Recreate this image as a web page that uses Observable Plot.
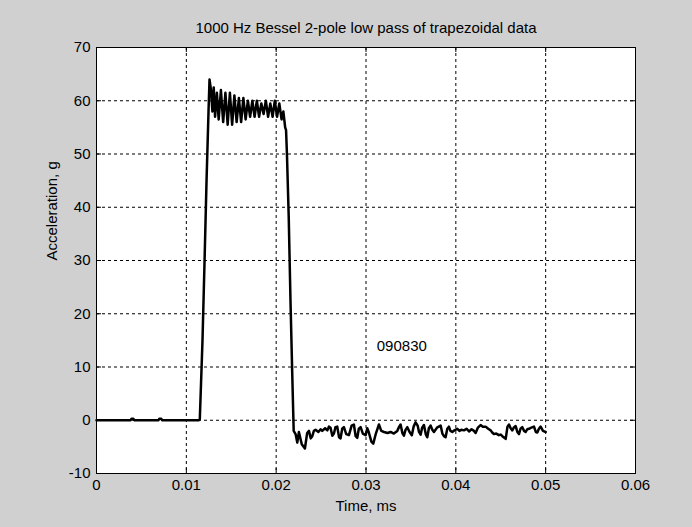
<!DOCTYPE html>
<html><head><meta charset="utf-8">
<script src="https://cdn.jsdelivr.net/npm/d3@7"></script>
<script src="https://cdn.jsdelivr.net/npm/@observablehq/plot@0.6"></script>
<style>html,body{margin:0;padding:0;background:#d0d0d0;overflow:hidden;}</style>
</head><body><div id="chart"></div>
<script>
const title = "1000 Hz Bessel 2-pole low pass of trapezoidal data";
const xLabel = "Time, ms";
const yLabel = "Acceleration, g";
const note = "090830";
const noteX = 0.0312;
const noteY = 14;
const xTicks = [0, 0.01, 0.02, 0.03, 0.04, 0.05, 0.06];
const yTicks = [-10, 0, 10, 20, 30, 40, 50, 60, 70];

const time = [
  0, 0.0038, 0.0039, 0.0041, 0.0042, 0.0069, 0.0070, 0.0072, 0.0073, 0.01140,
  0.01150, 0.01180, 0.01203, 0.01225, 0.01247, 0.01258,
  0.01275, 0.01290, 0.01305, 0.01320, 0.01340, 0.01360, 0.01385, 0.01410, 0.01435, 0.01460,
  0.01485, 0.01510, 0.01535, 0.01560, 0.01585, 0.01610, 0.01635, 0.01660, 0.01685, 0.01710,
  0.01735, 0.01760, 0.01785, 0.01810, 0.01835, 0.01860, 0.01885, 0.01910, 0.01935, 0.01960,
  0.01985, 0.02010, 0.02035, 0.02060, 0.02080, 0.02100, 0.02110,
  0.02120, 0.02140, 0.02160, 0.02180, 0.02195,
  0.02216, 0.02235, 0.02253, 0.02285, 0.02320, 0.02345, 0.02365, 0.02385, 0.02402, 0.02420,
  0.02439, 0.02470, 0.02495, 0.02513, 0.02545, 0.02570, 0.02587, 0.02605, 0.02625, 0.02643,
  0.02660, 0.02680, 0.02700, 0.02717, 0.02735, 0.02754, 0.02780, 0.02810, 0.02840, 0.02865,
  0.02885, 0.02903, 0.02920, 0.02940, 0.02965, 0.02996, 0.03014, 0.03030, 0.03060, 0.03081,
  0.03110, 0.03144, 0.03170, 0.03200, 0.03240, 0.03274, 0.03310, 0.03348, 0.03370, 0.03385,
  0.03405, 0.03422, 0.03440, 0.03460, 0.03485, 0.03510, 0.03530, 0.03552, 0.03575, 0.03590,
  0.03608, 0.03625, 0.03645, 0.03665, 0.03682, 0.03700, 0.03719, 0.03738, 0.03756, 0.03790,
  0.03831, 0.03850, 0.03868, 0.03886, 0.03905, 0.03923, 0.03940, 0.03961, 0.03985, 0.04017,
  0.04040, 0.04060, 0.04091, 0.04120, 0.04147, 0.04175, 0.04202, 0.04220, 0.04245, 0.04276,
  0.04300, 0.04332, 0.04360, 0.04388, 0.04405, 0.04424, 0.04450, 0.04480, 0.04500, 0.04518,
  0.04540, 0.04555, 0.04575, 0.04592, 0.04610, 0.04629, 0.04648, 0.04666, 0.04685, 0.04703,
  0.04720, 0.04740, 0.04760, 0.04777, 0.04795, 0.04814, 0.04840, 0.04870, 0.04890, 0.04907,
  0.04925, 0.04944, 0.04970, 0.05000
];
const accel = [
  0, 0, 0.3, 0.3, 0, 0, 0.3, 0.3, 0, 0,
  0.2, 15, 30, 45, 58, 64,
  62, 58, 62.5, 57, 61.5, 56.5, 62, 56, 61.5, 55.5,
  61.5, 55.5, 61, 56, 60.5, 56, 60.5, 56.5, 60, 57,
  60, 57, 60, 57, 59.5, 57.5, 60, 57, 59.5, 57,
  60, 57, 59.5, 56.5, 58, 55, 54.5,
  50, 38, 22, 8, -2.0,
  -2.6, -4.2, -2.2, -4.5, -5.3, -2.4, -2.0, -3.4, -3.0, -2.0,
  -1.8, -2.2, -1.7, -2.0, -1.5, -1.9, -1.2, -1.4, -2.9, -2.5,
  -1.3, -1.2, -3.2, -3.4, -1.6, -1.3, -2.6, -2.8, -1.0, -0.8,
  -3.0, -3.3, -1.6, -1.3, -2.5, -2.8, -1.5, -2.2, -4.0, -4.4,
  -2.5, -0.8, -2.0, -2.2, -2.4, -2.2, -2.5, -2.0, -1.2, -0.8,
  -2.4, -2.9, -1.8, -1.3, -2.2, -2.8, -1.2, -0.4, -1.0, -2.2,
  -2.7, -1.4, -0.9, -2.6, -3.2, -1.5, -1.0, -1.8, -2.2, -1.4,
  -1.0, -2.5, -3.0, -3.2, -1.6, -1.2, -2.0, -2.2, -1.9, -1.6,
  -2.0, -1.8, -1.9, -1.6, -2.1, -1.7, -2.0, -2.4, -1.4, -0.9,
  -1.2, -1.2, -1.6, -1.9, -2.3, -2.6, -2.5, -2.8, -2.7, -3.0,
  -3.3, -3.5, -1.2, -0.8, -1.5, -1.9, -1.3, -1.1, -2.2, -2.6,
  -1.6, -1.3, -2.0, -2.2, -1.7, -1.6, -1.4, -1.2, -2.2, -2.3,
  -1.6, -1.2, -2.0, -2.2
];

const data = time.map((t, i) => ({t, g: accel[i]}));

const W = 692, H = 527, mL = 96, mR = 57, mT = 47, mB = 54;
const fw = W - mL - mR, fh = H - mT - mB;
const tickLen = 5;
const font = "'Liberation Sans', Arial, Helvetica, sans-serif";

const chart = Plot.plot({
  width: W, height: H,
  marginLeft: mL, marginRight: mR, marginTop: mT, marginBottom: mB,
  style: {background: "#d0d0d0", fontFamily: font, fontSize: "15px", color: "#000"},
  x: {domain: [0, 0.06]},
  y: {domain: [-10, 70]},
  marks: [
    Plot.frame({fill: "white", stroke: null}),
    Plot.gridX(xTicks, {stroke: "black", strokeOpacity: 1, strokeDasharray: "3,3"}),
    Plot.gridY(yTicks, {stroke: "black", strokeOpacity: 1, strokeDasharray: "3,3"}),
    Plot.tickX(xTicks, {x: d => d, insetTop: fh - tickLen, stroke: "black"}),
    Plot.tickX(xTicks, {x: d => d, insetBottom: fh - tickLen, stroke: "black"}),
    Plot.tickY(yTicks, {y: d => d, insetRight: fw - tickLen, stroke: "black"}),
    Plot.tickY(yTicks, {y: d => d, insetLeft: fw - tickLen, stroke: "black"}),
    Plot.line(data, {x: "t", y: "g", stroke: "black", strokeWidth: 2.5, strokeLinejoin: "round"}),
    Plot.frame({stroke: "black"}),
    Plot.axisX(xTicks, {tickSize: 0, tickPadding: 6, tickFormat: d => String(d), label: null}),
    Plot.axisY(yTicks, {tickSize: 0, tickPadding: 6, tickFormat: d => String(d), label: null}),
    Plot.text([title], {frameAnchor: "top", dy: -25}),
    Plot.text([xLabel], {frameAnchor: "bottom", dy: 37}),
    Plot.text([yLabel], {frameAnchor: "left", dx: -44, rotate: -90}),
    Plot.text([note], {x: () => noteX, y: () => noteY, textAnchor: "start"})
  ]
});
document.getElementById("chart").append(chart);
</script>
</body></html>
